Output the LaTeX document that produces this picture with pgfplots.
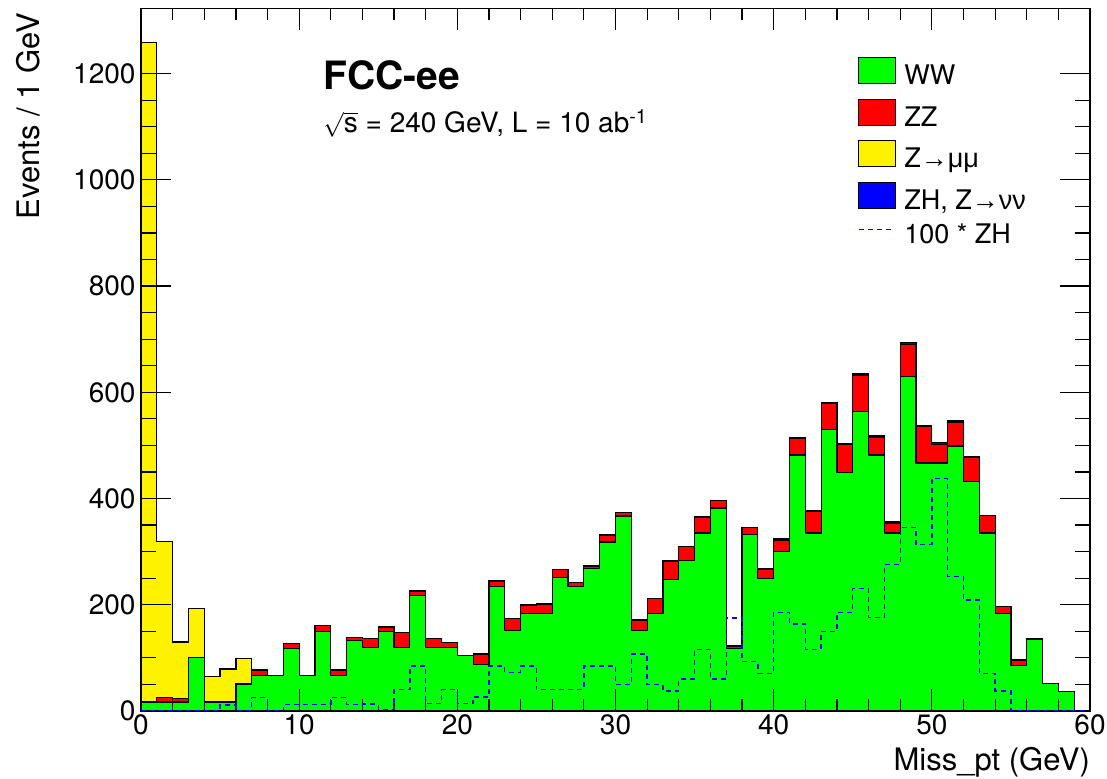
\documentclass[border=0pt]{standalone}
\usepackage{pgfplots}
\pgfplotsset{compat=1.18}
\usepackage{pgfplotstable}
\usepackage{fontspec}
\setmainfont{TeX Gyre Heros}
\newfontfamily\symfont{Liberation Sans}

% Missing transverse momentum, events per 1 GeV bin (bin lower edge in x).
% The last row closes the final bin for the step outline.
\pgfplotstableread{
x   ww   zz   zmm   zh    zh100
0   17   0    1241  0     0
1   17   8    294   0     0
2   17   6    107   0     0
3   100  0    93    0     0
4   17   0    48    0     0
5   17   0    62    0.11  11
6   51   0    48    0     0
7   67   10   0     0.25  25
8   67   0    0     0     0
9   118  9    0     0.12  12
10  67   0    0     0.12  12
11  149  12   0     0.12  12
12  67   10   0     0.25  25
13  133  5    0     0.12  12
14  119  17   0     0.13  13
15  149  9    0     0.03  3
16  120  28   0     0.40  40
17  217  8    0     0.85  85
18  120  17   0     0.14  14
19  120  9    0     0.40  40
20  104  0    0     0.14  14
21  87   20   0     0.26  26
22  235  9    0     0.85  85
23  152  22   0     0.73  73
24  184  15   0     0.85  85
25  184  17   0     0.40  40
26  252  14   0     0.40  40
27  235  7    0     0.40  40
28  268  5    0     0.85  85
29  318  13   0     0.85  85
30  367  6    0     0.50  50
31  151  20   0     1.07  107
32  183  29   0     0.50  50
33  248  34   0     0.38  38
34  283  26   0     0.60  60
35  335  30   0     1.16  116
36  382  14   0     0.60  60
37  118  4    0     1.75  175
38  333  12   0     0.93  93
39  250  17   0     0.71  71
40  301  21   0     1.86  186
41  482  31   0     1.64  164
42  335  41   0     1.16  116
43  530  50   0     1.50  150
44  449  52   0     1.86  186
45  564  68   0     2.31  231
46  482  34   0     1.76  176
47  335  18   0     2.76  276
48  630  60   0     3.46  346
49  467  68   0     3.13  313
50  467  34   0     4.38  438
51  499  45   0     2.53  253
52  432  45   0     2.09  209
53  335  33   0     0.71  71
54  184  13   0     0.38  38
55  85   11   0     0     0
56  134  3    0     0     0
57  52   0    0     0     0
58  36   0    0     0     0
59  0    0    0     0     0
60  0    0    0     0     0
}\hist

\pgfplotsset{
  histframe/.style={
    at={(141bp,68bp)}, anchor=south west,
    scale only axis, width=949bp, height=702.7bp,
    xmin=0, xmax=60, ymin=0, ymax=1323,
  },
  histfill/.style={fill=#1, draw=black, line width=1.2bp, const plot mark left},
  boxlegend/.style={legend image code/.code={%
    \draw[##1, draw=black, line width=1.2bp] (0bp,-6bp) rectangle (37bp,20bp);}},
  dashlegend/.style={legend image code/.code={%
    \draw[##1] (0bp,7bp) -- (32bp,7bp);}},
}

\begin{document}
\begin{tikzpicture}[x=1bp,y=1bp]
\path[use as bounding box] (0,0) rectangle (1107,779);

\begin{axis}[
  histframe,
  stack plots=y,
  axis on top,
  axis line style={line width=1.2bp},
  xtick={0,10,...,60}, minor x tick num=4,
  ytick={0,200,...,1200}, minor y tick num=3,
  tick align=inside,
  xtick style={/pgfplots/major tick length=22bp,/pgfplots/minor tick length=12bp},
  ytick style={/pgfplots/major tick length=30bp,/pgfplots/minor tick length=15bp},
  tick style={line width=1.2bp, black},
  /pgf/number format/assume math mode=true,
  /pgf/number format/1000 sep={},
  tick label style={font=\fontsize{28bp}{30bp}\selectfont},
  yticklabel style={xshift=-2bp},
]
  \addplot[histfill=green]  table[x=x, y=ww]  {\hist} \closedcycle;
  \addplot[histfill=red]    table[x=x, y=zz]  {\hist} \closedcycle;
  \addplot[histfill=yellow] table[x=x, y=zmm] {\hist} \closedcycle;
  \addplot[histfill=blue]   table[x=x, y=zh]  {\hist} \closedcycle;
\end{axis}

\begin{axis}[
  histframe,
  hide axis,
  legend style={
    at={(axis description cs:0.7555,0.9307)}, anchor=north west,
    draw=none, fill=none, inner sep=0pt, outer sep=0pt,
    row sep=8bp, column sep=8bp,
    font=\fontsize{27bp}{27bp}\selectfont,
    nodes={inner sep=0pt, text height=20bp, text depth=6bp},
  },
  legend cell align=left,
]
  \addlegendimage{fill=green, boxlegend}  \addlegendentry{WW}
  \addlegendimage{fill=red, boxlegend}    \addlegendentry{ZZ}
  \addlegendimage{fill=yellow, boxlegend} \addlegendentry{Z{\symfont →μμ}}
  \addlegendimage{fill=blue, boxlegend}   \addlegendentry{ZH, Z{\symfont →νν}}
  \addplot[blue, line width=1.4bp, dash pattern=on 5bp off 4bp, const plot mark left, dashlegend]
    table[x=x, y=zh100] {\hist};
  \addlegendentry{100 * ZH}
\end{axis}

\node[anchor=base west, inner sep=0pt, font=\bfseries\fontsize{39bp}{39bp}\selectfont]
  at (323,689) {FCC-ee};
\node[anchor=base west, inner sep=0pt, font=\fontsize{28bp}{30bp}\selectfont]
  at (323,646) {$\sqrt{\mbox{s}}$ = 240 GeV, L = 10 ab\textsuperscript{-1}};

\node[anchor=base east, inner sep=0pt, rotate=90, font=\fontsize{31bp}{33bp}\selectfont]
  at (39,766) {Events / 1 GeV};
\node[anchor=base east, inner sep=0pt, font=\fontsize{31bp}{33bp}\selectfont]
  at (1090,8) {Miss\_pt (GeV)};
\end{tikzpicture}
\end{document}
